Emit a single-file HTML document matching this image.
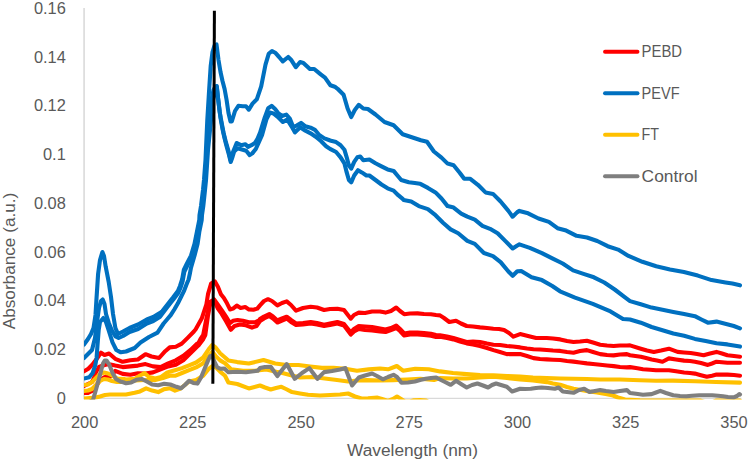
<!DOCTYPE html>
<html><head><meta charset="utf-8"><style>
html,body{margin:0;padding:0;background:#fff;width:749px;height:462px;overflow:hidden}
svg{display:block;position:absolute;left:0;top:0}
text{font-family:"Liberation Sans",sans-serif;fill:#595959}
</style></head><body>
<svg width="749" height="462" viewBox="0 0 749 462">
<defs><clipPath id="pa"><rect x="84" y="0" width="665" height="399.6"/></clipPath></defs>
<g font-size="16.4">
<text x="65.8" y="13.8" text-anchor="end">0.16</text><text x="65.8" y="62.5" text-anchor="end">0.14</text><text x="65.8" y="111.3" text-anchor="end">0.12</text><text x="65.8" y="160.1" text-anchor="end">0.1</text><text x="65.8" y="208.8" text-anchor="end">0.08</text><text x="65.8" y="257.6" text-anchor="end">0.06</text><text x="65.8" y="306.3" text-anchor="end">0.04</text><text x="65.8" y="355.1" text-anchor="end">0.02</text><text x="65.8" y="403.8" text-anchor="end">0</text>
<text x="84.6" y="428.2" text-anchor="middle">200</text><text x="192.8" y="428.2" text-anchor="middle">225</text><text x="301.1" y="428.2" text-anchor="middle">250</text><text x="409.3" y="428.2" text-anchor="middle">275</text><text x="517.5" y="428.2" text-anchor="middle">300</text><text x="625.8" y="428.2" text-anchor="middle">325</text><text x="734.0" y="428.2" text-anchor="middle">350</text>
</g>
<text x="347" y="456.3" font-size="16" textLength="131" lengthAdjust="spacingAndGlyphs">Wavelength (nm)</text>
<text transform="translate(15.3,261) rotate(-90)" font-size="16" text-anchor="middle" textLength="136.5" lengthAdjust="spacingAndGlyphs">Absorbance (a.u.)</text>
<line x1="84.1" y1="8" x2="84.1" y2="399.2" stroke="#DEDEDE" stroke-width="1.8"/>
<line x1="84" y1="398.4" x2="741.5" y2="398.4" stroke="#D9D9D9" stroke-width="1.4"/>
<g clip-path="url(#pa)" fill="none" stroke-width="4.1" stroke-linejoin="round" stroke-linecap="round">
<polyline points="84.0,393.0 88.0,393.0 92.0,391.0 96.0,386.0 100.0,380.0 104.8,377.0 110.0,377.0 115.2,370.9 122.7,373.9 130.3,374.7 137.9,373.2 145.5,373.5 153.0,372.4 160.6,369.4 168.2,366.4 175.8,364.8 183.3,360.3 190.9,352.7 197.0,346.7 199.0,344.9 203.2,339.2 205.3,335.0 208.0,315.5 210.3,303.3 214.1,300.0 217.9,308.6 221.7,313.9 226.2,321.5 230.8,329.8 234.5,326.0 239.8,324.5 245.9,325.3 252.0,327.6 256.5,326.0 260.0,321.0 264.0,318.5 269.3,316.0 273.0,318.5 277.4,322.5 282.0,320.5 286.7,318.5 291.0,322.0 296.0,325.0 303.0,324.5 310.7,323.5 317.0,324.5 324.1,326.0 330.0,325.0 337.4,323.5 344.0,325.5 350.8,334.5 354.0,331.5 358.8,329.0 365.0,330.0 372.1,330.5 380.0,331.5 385.5,332.0 391.0,330.0 396.2,328.0 400.0,331.0 404.2,335.5 410.0,334.5 417.5,334.5 424.0,335.0 430.9,335.8 436.0,337.0 440.0,336.7 447.0,338.0 453.4,339.4 460.0,341.5 466.7,343.4 473.0,344.5 480.0,346.0 487.0,348.0 493.4,350.1 500.0,352.0 506.8,354.1 513.0,354.0 520.1,354.1 527.0,356.0 533.5,358.1 540.0,359.0 546.8,359.4 553.0,359.7 560.2,360.0 567.0,361.0 573.5,361.6 580.0,362.5 586.9,363.4 593.0,364.0 600.2,364.8 607.0,365.5 613.6,366.1 620.0,367.0 626.9,367.4 630.0,367.1 636.0,368.0 643.0,369.2 650.0,369.8 656.0,370.3 662.0,370.3 668.9,370.3 676.0,371.3 684.1,372.5 690.0,373.0 694.9,373.6 700.0,375.0 706.8,376.8 712.0,375.7 716.5,374.6 722.0,374.6 727.4,374.6 734.0,375.0 740.0,375.7" stroke="#FF0000"/><polyline points="84.0,386.0 88.0,384.0 92.0,382.0 94.0,378.0 96.0,372.0 99.0,367.0 103.0,365.5 106.5,364.5 110.4,364.5 115.2,365.6 122.7,367.1 130.3,366.4 137.9,365.6 145.5,364.1 153.0,366.4 160.6,367.1 168.2,363.3 175.8,360.3 183.3,355.8 190.9,349.7 197.0,343.6 197.5,344.9 200.4,339.2 203.2,335.0 206.4,318.6 210.0,302.0 214.1,299.5 217.9,304.8 221.7,310.2 226.2,317.0 230.0,323.0 233.0,320.8 237.6,320.0 242.9,320.8 248.9,322.3 255.0,322.3 259.5,320.0 260.0,319.0 264.0,316.5 269.3,314.0 273.0,316.5 277.4,320.5 282.0,318.5 286.7,316.7 291.0,320.0 296.0,323.5 303.0,323.0 310.7,322.0 317.0,323.0 324.1,324.8 330.0,323.5 337.4,322.0 344.0,324.0 350.8,332.5 354.0,329.0 358.8,326.0 365.0,326.5 372.1,327.0 380.0,328.5 385.5,329.5 391.0,328.0 396.2,325.5 400.0,329.0 404.2,333.5 410.0,332.5 417.5,332.5 424.0,333.0 430.9,333.8 436.0,335.0 440.0,335.4 447.0,336.5 453.4,338.0 460.0,340.0 466.7,342.0 473.0,341.5 480.0,342.0 487.0,343.5 493.4,344.7 500.0,345.0 506.8,346.0 513.0,346.5 520.1,347.4 527.0,348.5 533.5,349.3 540.0,349.5 546.8,350.0 553.0,350.5 560.2,350.9 567.0,352.0 573.5,352.7 580.0,351.0 586.9,350.1 593.0,352.0 600.2,354.1 607.0,355.0 613.6,355.4 620.0,354.5 626.9,354.1 630.0,355.2 640.8,356.7 646.0,358.0 651.6,359.5 657.0,360.5 662.5,361.7 668.9,358.4 676.0,359.5 684.1,360.6 690.0,361.0 694.9,361.7 701.0,363.0 707.9,364.9 712.0,363.5 716.5,361.7 722.0,362.2 727.4,362.7 734.0,362.7 740.0,362.7" stroke="#FF0000"/><polyline points="84.0,371.3 88.3,368.7 92.7,364.3 97.0,358.5 101.0,352.7 104.5,355.0 109.1,353.5 115.2,358.8 122.7,361.8 130.3,360.3 137.9,359.5 145.5,354.2 151.5,356.5 159.1,358.0 165.2,351.2 169.7,347.4 175.8,346.7 181.8,343.6 187.9,337.6 193.9,331.5 195.7,329.3 201.7,318.6 206.4,304.3 208.0,294.2 211.1,283.6 214.8,281.4 217.9,286.7 220.9,294.2 223.9,298.0 227.0,303.3 230.0,309.4 233.0,308.6 236.8,305.6 240.6,307.9 245.2,307.1 248.9,309.4 253.5,309.7 257.3,308.6 260.0,305.4 264.0,301.0 268.0,299.2 272.0,301.0 277.4,305.4 282.0,303.0 286.7,301.4 291.0,305.0 296.0,310.7 303.0,308.0 310.7,306.7 317.0,307.5 324.1,310.0 330.0,309.0 337.4,308.8 344.0,310.0 350.8,318.7 354.0,315.0 358.8,312.6 365.0,313.0 372.1,311.5 380.0,311.5 385.5,312.6 391.0,311.0 396.2,307.5 400.0,311.0 404.2,314.2 410.0,313.5 417.5,313.4 424.0,314.0 430.9,314.2 436.0,315.0 440.0,315.4 444.0,318.0 449.3,322.0 456.0,320.7 461.0,323.5 466.7,326.0 473.0,326.5 480.0,327.4 487.0,328.0 493.4,328.7 499.0,329.0 504.1,330.0 509.0,333.0 513.4,336.7 520.1,334.1 528.0,336.0 536.1,338.0 546.8,338.0 553.0,338.5 560.2,339.4 567.0,341.0 573.5,342.0 580.0,341.5 586.9,340.7 593.0,342.5 600.2,344.7 607.0,345.5 613.6,346.0 620.0,345.5 626.9,345.5 630.0,345.4 640.8,348.7 647.0,350.5 653.8,351.9 661.0,350.5 668.9,348.7 677.6,351.9 684.0,352.5 690.6,353.0 697.0,354.0 703.6,355.2 710.0,353.5 716.5,351.9 722.0,353.5 727.4,355.2 734.0,356.0 740.0,356.7" stroke="#FF0000"/><polyline points="84.0,378.5 89.2,377.3 92.7,373.0 95.3,365.2 96.6,358.0 97.5,345.0 98.7,330.0 100.0,322.0 103.4,318.0 106.0,322.0 108.7,330.3 112.5,342.4 116.3,350.0 120.8,352.3 126.0,351.5 134.7,348.0 140.5,342.5 149.0,337.0 157.5,332.7 163.6,323.5 167.0,319.5 170.7,315.2 174.3,309.5 177.9,303.3 181.0,297.0 183.8,291.4 186.3,285.0 188.6,279.5 190.0,273.0 191.0,267.6 194.5,255.7 197.6,243.8 199.3,231.9 201.7,220.0 202.0,215.0 203.3,206.0 205.0,190.0 206.0,180.0 208.0,150.0 211.0,120.0 213.0,100.0 215.0,90.0 216.8,87.5 218.5,102.0 220.5,118.0 222.5,129.0 224.5,138.0 226.5,146.0 229.0,155.0 230.7,162.0 232.5,157.0 234.1,151.6 237.6,148.2 241.9,149.5 246.2,150.8 249.7,155.1 252.3,153.4 255.8,149.0 259.2,141.3 262.0,135.2 266.4,119.4 269.9,112.5 273.4,113.4 277.7,116.8 282.9,122.0 287.2,119.4 291.5,126.3 295.0,132.4 300.2,127.2 305.4,130.7 310.6,133.3 315.7,136.7 320.9,141.0 326.1,146.2 330.0,148.9 336.1,152.0 340.6,157.3 344.4,163.3 346.7,172.4 348.9,180.0 351.2,182.3 354.2,175.5 358.0,170.2 361.8,172.4 366.4,175.5 369.4,175.5 375.5,180.0 381.5,184.5 387.6,188.3 393.6,190.6 398.2,195.2 402.7,198.9 403.6,200.0 411.2,201.5 418.8,206.1 427.9,209.1 435.5,215.2 443.0,222.7 450.6,229.4 458.2,233.3 467.3,240.9 474.8,243.9 483.9,253.0 493.0,256.1 500.6,262.1 508.2,271.2 512.7,275.8 517.3,271.2 521.2,271.1 531.6,277.3 541.9,280.1 552.3,286.0 560.0,291.3 575.0,297.6 592.8,303.9 610.5,311.4 623.0,319.0 630.0,319.5 640.8,322.7 651.6,327.0 662.5,330.3 673.3,333.5 684.1,335.7 694.9,338.9 705.7,341.1 716.5,343.3 727.4,344.4 740.0,346.6" stroke="#0070C0"/><polyline points="84.0,358.0 88.0,354.0 92.0,350.0 95.0,338.0 97.0,322.0 99.0,308.0 101.0,301.0 102.7,299.5 104.5,304.0 106.0,314.0 108.7,322.7 111.8,330.3 115.5,336.4 118.6,338.0 123.0,336.0 129.5,332.0 138.1,329.0 146.8,323.5 153.3,321.0 159.8,317.0 166.8,307.8 171.1,302.3 173.5,299.3 178.4,292.8 180.5,287.8 182.6,281.3 184.3,271.8 187.2,265.8 191.5,257.5 195.0,245.6 197.4,233.7 199.8,221.8 200.5,215.0 202.0,206.0 204.2,190.0 205.2,180.0 207.0,150.0 209.5,120.0 211.5,100.0 213.5,90.0 215.5,86.5 216.8,86.0 218.0,98.0 219.7,112.0 221.7,123.0 223.6,133.0 225.6,141.0 228.5,151.0 230.7,160.5 233.0,152.0 236.7,143.0 241.0,145.2 245.4,144.3 248.0,146.9 251.4,145.2 254.9,143.0 257.5,138.7 260.1,132.6 264.7,117.7 268.2,108.2 271.6,105.9 275.1,109.0 278.5,113.4 282.0,116.0 286.3,114.6 289.8,118.5 293.3,127.2 296.7,125.5 301.0,122.9 305.4,126.3 310.6,127.7 314.9,129.8 319.2,135.0 324.4,138.4 329.6,140.2 330.0,140.6 336.1,142.1 340.6,145.2 344.4,149.7 346.7,157.3 348.9,165.6 351.2,168.6 354.2,161.8 357.3,157.3 360.3,156.5 363.3,160.3 369.4,159.5 375.5,163.3 381.5,166.4 387.6,169.4 393.6,170.9 397.4,175.5 401.2,180.0 408.8,182.3 414.8,183.0 420.0,183.8 420.3,183.9 427.9,187.9 435.5,192.4 441.5,198.5 447.6,206.1 453.6,207.6 461.2,213.6 467.3,216.7 474.8,219.7 482.4,225.8 490.0,228.8 497.6,233.3 505.2,240.9 512.7,248.5 517.3,245.5 519.4,244.4 529.8,247.9 541.9,253.1 552.3,258.3 562.7,263.5 573.1,270.4 583.5,273.9 593.9,277.3 604.3,282.5 614.7,289.5 625.0,297.4 630.0,301.1 640.8,304.3 651.6,307.6 662.5,309.7 673.3,311.9 684.1,314.1 694.9,316.2 701.4,319.5 707.9,322.7 716.5,321.6 725.2,323.8 733.8,326.0 740.0,328.3" stroke="#0070C0"/><polyline points="84.0,344.5 88.0,339.0 91.0,334.0 93.5,328.0 95.5,315.0 96.6,297.0 98.1,274.0 100.0,260.0 102.4,252.0 104.0,256.0 105.7,266.7 108.7,282.0 111.0,297.0 113.0,314.0 115.4,328.0 118.0,334.0 123.0,331.5 129.5,328.0 138.1,324.5 146.8,319.5 153.3,317.0 159.8,313.0 160.0,313.0 162.4,311.0 166.3,306.0 170.6,300.5 173.0,297.5 177.9,291.0 180.0,286.0 182.1,279.5 183.8,270.0 186.7,264.0 191.0,255.7 194.5,243.8 196.9,231.9 199.3,220.0 199.5,215.0 201.0,206.0 203.0,190.0 204.0,180.0 205.5,160.0 207.3,120.0 209.0,92.0 210.7,66.0 212.5,52.0 214.5,45.5 216.5,44.5 218.5,60.0 220.5,72.0 222.5,81.0 224.6,89.0 226.6,100.0 228.5,113.0 230.5,121.5 231.8,121.5 235.0,111.0 238.4,105.8 242.8,106.2 246.0,106.2 248.8,109.7 252.5,103.6 256.8,99.3 261.2,86.3 265.5,64.6 268.7,53.8 272.0,51.0 275.2,52.7 279.1,57.0 282.8,61.4 288.2,57.0 291.5,60.3 295.8,67.2 300.1,62.0 303.4,62.9 309.9,69.0 314.2,69.0 320.7,74.4 325.0,77.6 330.4,85.2 334.8,86.7 337.6,88.8 343.6,94.8 347.6,108.5 351.2,117.0 354.8,110.0 358.8,104.8 363.3,108.5 367.9,109.0 375.5,114.5 384.5,122.0 393.6,125.2 402.7,134.2 411.8,137.3 420.9,140.3 427.0,141.8 433.9,151.5 441.5,157.6 447.6,163.6 453.6,165.2 459.7,172.7 464.2,178.8 470.3,178.8 477.9,184.8 485.5,192.4 493.0,193.9 500.6,201.5 508.2,210.6 512.6,216.7 517.3,212.1 519.4,210.9 528.1,213.3 538.5,218.5 548.9,221.9 557.5,228.2 566.2,230.6 576.6,235.8 587.0,237.5 597.3,241.0 607.7,246.2 618.1,249.6 628.5,255.9 642.4,261.8 656.2,266.3 670.0,269.4 683.9,272.1 697.8,275.6 711.6,280.1 725.5,282.5 732.4,283.6 740.0,285.3" stroke="#0070C0"/><polyline points="84.0,398.5 90.0,398.0 96.0,397.5 100.0,396.5 105.0,395.0 110.0,394.5 117.3,394.5 124.0,394.5 126.0,394.5 134.7,392.8 140.0,391.4 146.1,388.3 152.1,390.6 158.2,392.1 164.2,389.1 170.3,388.3 175.0,390.6 180.6,388.5 189.1,381.5 196.1,380.1 203.2,375.8 208.8,368.8 212.3,366.0 215.8,367.4 220.1,371.6 225.0,375.8 228.4,382.5 237.2,384.0 248.8,388.4 260.0,385.5 265.0,387.5 270.7,389.5 276.0,388.0 281.4,386.8 286.0,389.0 292.0,392.1 300.0,393.5 308.1,394.8 320.0,395.5 330.0,395.0 340.0,394.5 348.1,393.5 355.0,396.5 361.5,398.5 368.0,398.4 377.5,397.6 382.0,399.0 388.0,401.0 393.0,399.0 397.0,396.5 401.0,399.0 405.0,401.5 410.0,401.5 414.0,400.3 420.0,400.0 426.0,400.5 430.0,403.0 740.0,403.0" stroke="#FFC000"/><polyline points="84.0,391.0 88.0,390.5 92.0,389.0 96.0,385.0 100.0,381.0 104.0,379.0 108.0,379.5 112.0,381.0 117.0,382.0 124.0,382.0 134.7,380.5 145.0,380.0 155.2,380.0 163.0,378.0 170.3,375.5 175.0,375.8 182.0,373.0 189.1,370.2 196.1,367.4 203.2,363.2 208.8,356.1 212.3,351.9 215.8,356.1 220.1,360.4 225.0,363.2 231.3,369.4 243.0,370.8 254.7,370.8 266.4,369.4 278.1,372.3 278.7,372.1 290.0,375.0 300.0,377.5 313.0,377.0 326.8,378.8 337.0,380.0 348.1,381.5 357.0,380.5 366.8,380.1 380.0,380.5 393.5,380.1 407.0,379.5 420.2,378.8 434.0,380.0 440.0,378.1 453.0,378.5 466.7,378.5 480.0,377.5 493.4,376.8 507.0,378.0 520.1,379.5 533.0,380.5 546.8,382.1 553.0,383.5 560.2,384.8 567.0,387.0 573.5,388.8 581.0,390.0 589.5,391.5 597.0,392.5 605.6,394.1 613.0,395.5 618.0,397.5 625.0,399.5 640.0,400.3 660.0,400.5 700.0,400.5 706.0,402.5 712.0,402.5 716.0,400.5 740.0,400.5" stroke="#FFC000"/><polyline points="84.0,385.0 88.0,384.5 92.0,382.0 96.0,378.0 100.0,374.0 104.0,372.5 108.0,373.5 112.0,375.5 117.3,378.5 124.0,379.0 126.0,379.5 134.7,378.9 140.0,375.5 144.5,373.2 149.1,377.0 155.2,378.5 161.2,377.0 167.3,372.4 175.0,370.2 182.0,368.1 189.1,365.3 196.1,362.5 203.2,357.5 208.8,349.1 212.3,344.9 215.8,347.7 220.1,353.3 225.0,357.5 228.4,360.6 237.2,362.1 248.8,363.5 263.5,360.0 275.2,363.5 286.8,365.0 298.5,365.0 310.2,366.5 321.9,367.9 333.6,367.9 345.3,368.8 357.0,370.8 368.7,369.4 380.0,368.5 388.1,369.3 396.8,366.0 403.0,370.7 415.2,368.8 428.7,369.3 440.0,371.4 453.0,373.0 466.7,374.1 480.0,375.0 493.4,375.4 507.0,376.0 520.1,376.5 533.0,377.5 546.8,378.1 560.0,378.5 573.5,378.7 587.0,379.0 600.2,379.5 620.0,379.5 640.0,380.3 656.0,380.8 673.0,380.6 695.0,381.2 716.0,382.0 740.0,382.6" stroke="#FFC000"/><polyline points="91.0,401.0 92.7,401.0 97.0,386.0 100.5,373.0 103.0,363.5 104.8,360.5 106.5,360.5 109.1,364.3 112.6,373.0 116.0,379.0 120.4,381.6 124.0,382.5 126.0,383.3 131.2,382.4 136.4,379.8 141.6,378.9 146.8,381.5 152.1,384.5 158.2,385.3 164.2,383.8 170.3,384.5 176.4,386.8 180.9,388.3 184.9,385.0 189.1,380.8 193.3,382.9 197.5,383.6 201.1,377.3 204.6,368.8 208.1,360.4 210.2,356.1 212.3,355.4 214.4,361.8 217.3,367.4 220.8,368.8 224.3,368.6 228.4,372.3 237.2,371.7 245.9,372.3 257.6,370.8 260.0,368.1 265.0,367.0 270.7,366.8 277.4,376.1 282.0,370.0 286.7,364.1 290.0,370.0 294.7,378.8 302.0,373.0 309.4,368.1 313.0,373.0 317.4,378.8 324.1,372.1 332.0,371.0 340.1,369.5 345.4,368.1 348.0,375.0 352.1,385.5 358.8,377.5 365.0,375.5 372.1,373.5 377.0,376.0 382.8,379.3 388.0,377.0 393.5,374.8 397.0,377.0 401.5,382.8 408.0,382.5 414.9,381.5 420.0,380.0 425.6,378.8 431.0,378.0 436.2,377.5 440.0,379.5 445.0,382.0 450.7,384.8 456.0,380.8 461.0,384.0 466.7,387.5 472.0,385.0 477.4,383.5 483.0,385.5 488.1,387.5 492.0,385.0 496.1,383.5 501.0,385.0 506.8,386.7 512.1,391.5 520.1,388.8 525.0,389.0 530.8,388.8 536.0,388.0 541.5,387.5 548.0,388.0 554.8,388.8 558.6,387.5 562.8,391.5 567.0,392.0 573.5,392.8 579.0,390.0 584.2,388.8 589.5,392.0 595.0,391.0 600.2,390.1 606.0,391.0 613.6,392.0 620.0,391.0 626.9,390.1 630.0,393.0 636.0,393.8 643.0,394.8 651.6,394.1 656.0,392.5 660.3,390.9 666.0,393.0 673.3,395.2 680.0,396.0 686.3,396.3 692.0,395.8 699.2,395.2 705.0,395.2 712.2,395.2 718.0,395.8 723.0,396.3 728.0,397.0 733.8,397.4 737.0,396.0 739.3,394.1 740.0,394.5" stroke="#7F7F7F"/>
</g>
<line x1="214.4" y1="10.7" x2="212.85" y2="383.7" stroke="#000" stroke-width="3"/>
<g font-size="16">
<line x1="605" y1="51.8" x2="637.5" y2="51.8" stroke="#FF0000" stroke-width="3.9" stroke-linecap="round"/><text x="641.6" y="57.4" textLength="40.5" lengthAdjust="spacingAndGlyphs">PEBD</text><line x1="605" y1="93.3" x2="637.5" y2="93.3" stroke="#0070C0" stroke-width="3.9" stroke-linecap="round"/><text x="641.6" y="98.9" textLength="38" lengthAdjust="spacingAndGlyphs">PEVF</text><line x1="605" y1="134.8" x2="637.5" y2="134.8" stroke="#FFC000" stroke-width="3.9" stroke-linecap="round"/><text x="641.6" y="140.4" textLength="17.5" lengthAdjust="spacingAndGlyphs">FT</text><line x1="605" y1="176.3" x2="637.5" y2="176.3" stroke="#7F7F7F" stroke-width="3.9" stroke-linecap="round"/><text x="641.6" y="181.9" textLength="56" lengthAdjust="spacingAndGlyphs">Control</text>
</g>
</svg>
</body></html>
